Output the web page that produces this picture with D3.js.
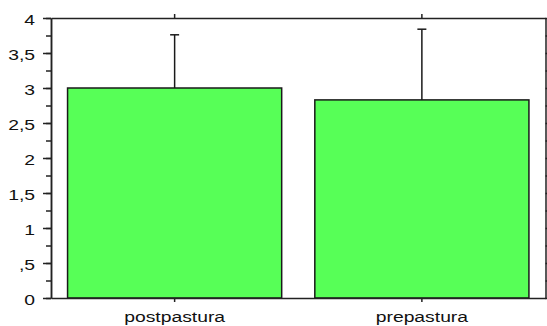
<!DOCTYPE html>
<html>
<head>
<meta charset="utf-8">
<script src="https://cdn.jsdelivr.net/npm/d3@7"></script>
<style>
  body { margin: 0; background: #fff; }
  svg { display: block; }
  .axis path, .axis line { stroke: #222; stroke-width: 1.5px; }
  .axis text { font-family: "Liberation Sans", Arial, sans-serif; font-size: 14px; fill: #111; }
</style>
</head>
<body>
<div id="chart"></div>
<script>
// data
var categories = ["postpastura", "prepastura"];
var means = [3.0, 2.83];
var errors = [0.76, 1.01];
var majorTicks = [0, 0.5, 1, 1.5, 2, 2.5, 3, 3.5, 4];
var tickLabels = ["0", ",5", "1", "1,5", "2", "2,5", "3", "3,5", "4"];
var minorTicks = d3.range(0, 4.01, 0.25);

var margin = {top: 18, right: 1.5, bottom: 28, left: 51},
    width = 547 - margin.left - margin.right,
    height = 326 - margin.top - margin.bottom;

var svg = d3.select("#chart").append("svg")
    .attr("width", 547)
    .attr("height", 326);

var g = svg.append("g")
    .attr("transform", "translate(" + margin.left + "," + margin.top + ")");

var x = d3.scaleBand()
    .domain(categories)
    .range([0, width])
    .paddingInner(0.134)
    .paddingOuter(0.067);

var y = d3.scaleLinear()
    .domain([0, 4])
    .range([height, 0]);

var data = categories.map(function (c, i) {
    return {name: c, mean: means[i], err: errors[i]};
});

// bars
g.selectAll(".bar")
    .data(data)
    .enter().append("rect")
    .attr("class", "bar")
    .attr("x", function (d) { return x(d.name); })
    .attr("width", x.bandwidth())
    .attr("y", function (d) { return y(d.mean); })
    .attr("height", function (d) { return height - y(d.mean); })
    .attr("fill", "#57ff57")
    .attr("stroke", "#1a1a1a")
    .attr("stroke-width", 1.5);

// error bars
var cx = function (d) { return x(d.name) + x.bandwidth() / 2; };
g.selectAll(".err")
    .data(data)
    .enter().append("line")
    .attr("x1", cx).attr("x2", cx)
    .attr("y1", function (d) { return y(d.mean); })
    .attr("y2", function (d) { return y(d.mean + d.err); })
    .attr("stroke", "#1a1a1a").attr("stroke-width", 1.5);
g.selectAll(".cap")
    .data(data)
    .enter().append("line")
    .attr("x1", function (d) { return cx(d) - 4.5; })
    .attr("x2", function (d) { return cx(d) + 4.5; })
    .attr("y1", function (d) { return y(d.mean + d.err); })
    .attr("y2", function (d) { return y(d.mean + d.err); })
    .attr("stroke", "#1a1a1a").attr("stroke-width", 1.5);

// left axis, minor ticks
g.append("g")
    .attr("class", "axis")
    .call(d3.axisLeft(y).tickValues(minorTicks).tickSize(5).tickSizeOuter(0).tickFormat(""));

// left axis, major ticks with labels
var yAxis = g.append("g")
    .attr("class", "axis")
    .call(d3.axisLeft(y).tickValues(majorTicks).tickSize(8).tickSizeOuter(0)
        .tickFormat(function (d, i) { return tickLabels[i]; }));
yAxis.selectAll("text")
    .attr("x", 0)
    .attr("dy", "0.38em")
    .attr("transform", "translate(-16,1) scale(1.38,1)");

// right axis
g.append("g")
    .attr("class", "axis")
    .attr("transform", "translate(" + width + ",0)")
    .call(d3.axisRight(y).tickValues(minorTicks).tickSize(6).tickSizeOuter(0).tickFormat(""));

// top axis
g.append("g")
    .attr("class", "axis")
    .call(d3.axisTop(x).tickSize(4).tickSizeOuter(0).tickFormat(""));

// bottom axis
var xAxis = g.append("g")
    .attr("class", "axis")
    .attr("transform", "translate(0," + height + ")")
    .call(d3.axisBottom(x).tickSize(4).tickSizeOuter(0));
xAxis.selectAll("text")
    .attr("y", 0)
    .attr("dy", 0)
    .attr("transform", "translate(0,24) scale(1.38,1)");
</script>
</body>
</html>
